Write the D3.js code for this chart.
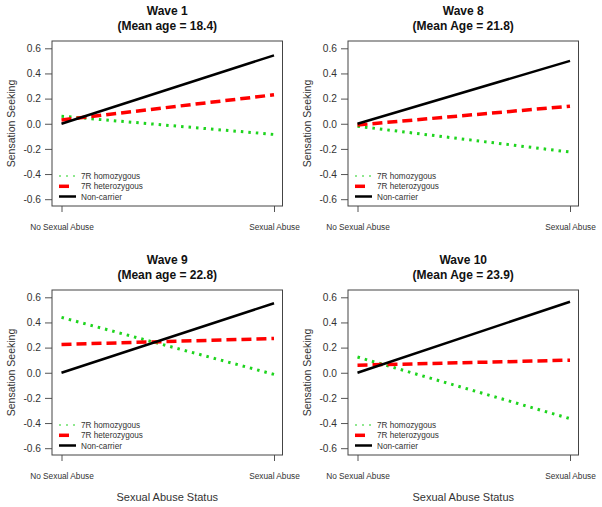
<!DOCTYPE html>
<html><head><meta charset="utf-8">
<script src="https://cdn.jsdelivr.net/npm/d3@7"></script>
<style>body{margin:0;background:#fff}svg{display:block}text{font-family:"Liberation Sans",Arial,sans-serif}</style>
</head><body><svg id="c" width="602" height="507"></svg>
<script>
const waves = ["Wave 1","Wave 8","Wave 9","Wave 10"];
const subtitles = ["(Mean age = 18.4)","(Mean Age = 21.8)","(Mean age = 22.8)","(Mean Age = 23.9)"];
const categories = ["No Sexual Abuse","Sexual Abuse"];
const homozygous   = [[0.06,-0.085],[-0.02,-0.225],[0.44,-0.013],[0.125,-0.365]];
const heterozygous = [[0.03,0.23],[-0.01,0.14],[0.225,0.272],[0.06,0.10]];
const noncarrier   = [[0,0.544],[0,0.50],[0,0.553],[0,0.565]];
const yTicks = [-0.6,-0.4,-0.2,0.0,0.2,0.4,0.6];
const seriesNames = ["7R homozygous","7R heterozygous","Non-carrier"];
const yTitle = "Sensation Seeking";
const xTitle = "Sexual Abuse Status";

const styles = [
  {color:"#1ed41e", width:3, dash:"2.5,5", lw:2, ldash:"2,5"},
  {color:"#ff0000", width:3.5, dash:"10,5", lw:3.5, ldash:"10,30"},
  {color:"#000000", width:2.5, dash:null, lw:2.5, ldash:null}
];
const offsets = [[0,0],[296,0],[0,249],[296,249]];
const svg = d3.select("#c");
const L=52, R=282.5, T=41, B=206;

waves.forEach((w,i)=>{
  const g = svg.append("g").attr("transform",`translate(${offsets[i][0]},${offsets[i][1]})`);
  const x = d3.scalePoint().domain(categories).range([61.5,274]);
  const y = d3.scaleLinear().domain([-0.6,0.6]).range([199.2,48.3]);
  const cx = (L+R)/2;
  g.append("text").attr("x",cx).attr("y",15).attr("text-anchor","middle")
    .attr("font-size",12).attr("font-weight","bold").attr("fill","#111").text(w);
  g.append("text").attr("x",cx).attr("y",29.5).attr("text-anchor","middle")
    .attr("font-size",12).attr("font-weight","bold").attr("fill","#111").text(subtitles[i]);

  const ya = g.append("g").attr("transform",`translate(${L},0)`)
    .call(d3.axisLeft(y).tickValues(yTicks).tickSize(7).tickPadding(4).tickFormat(d=>d.toFixed(1)));
  ya.select(".domain").remove();
  ya.selectAll("line").attr("stroke","#555");
  ya.selectAll("text").attr("font-size",10.2).attr("fill","#333").attr("font-family","Liberation Sans, Arial, sans-serif");

  const xa = g.append("g").attr("transform",`translate(0,${B})`)
    .call(d3.axisBottom(x).tickSize(6).tickPadding(12));
  xa.select(".domain").remove();
  xa.selectAll("line").attr("stroke","#555");
  xa.selectAll("text").attr("font-size",8.3).attr("fill","#333").attr("font-family","Liberation Sans, Arial, sans-serif");

  g.append("text").attr("transform",`translate(14.5,${(T+B)/2}) rotate(-90)`)
    .attr("text-anchor","middle").attr("font-size",10.5).attr("fill","#333").text(yTitle);
  if(i>=2){
    g.append("text").attr("x",cx).attr("y",252).attr("text-anchor","middle")
      .attr("font-size",11).attr("fill","#333").text(xTitle);
  }

  const data = [homozygous[i], heterozygous[i], noncarrier[i]];
  const line = d3.line().x((d,j)=>x(categories[j])).y(d=>y(d));
  data.forEach((s,k)=>{
    const st = styles[k];
    g.append("path").attr("d",line(s)).attr("fill","none")
      .attr("stroke",st.color).attr("stroke-width",st.width)
      .attr("stroke-dasharray",st.dash).attr("stroke-linecap","butt");
  });

  g.append("rect").attr("x",L).attr("y",T).attr("width",R-L).attr("height",B-T)
    .attr("fill","none").attr("stroke","#444").attr("stroke-width",1);

  const ly = [176,186.3,196.5];
  seriesNames.forEach((n,k)=>{
    const st = styles[k];
    g.append("line").attr("x1",59).attr("x2",76).attr("y1",ly[k]).attr("y2",ly[k])
      .attr("stroke",k===0?"#8fe88f":st.color).attr("stroke-width",st.lw).attr("stroke-dasharray",st.ldash);
    g.append("text").attr("x",81).attr("y",ly[k]+3).attr("font-size",8.2).attr("fill","#333").text(n);
  });
});
</script></body></html>
